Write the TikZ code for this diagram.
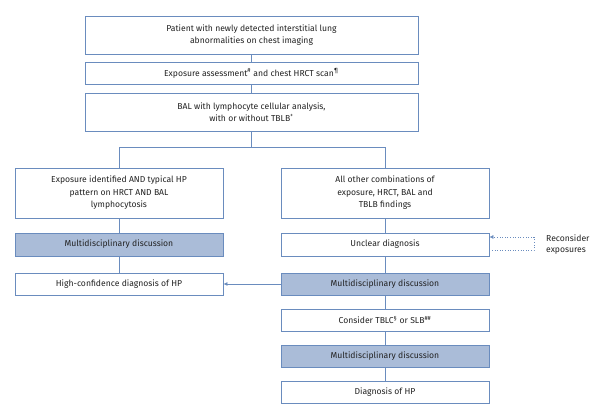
\documentclass[tikz,border=0pt]{standalone}
\usepackage{fontspec}
\setmainfont{Fira Sans}
\usetikzlibrary{arrows.meta}
\definecolor{boxline}{HTML}{6A8CBE}
\definecolor{mdfill}{HTML}{AABCD8}
\definecolor{txt}{HTML}{222222}
\tikzset{
  box/.style={draw=boxline, line width=0.8pt, fill=white, minimum width=#1, inner sep=0pt, align=center, text=txt, font=\fontsize{8.6}{12.5}\selectfont},
  box/.default=208pt,
  mdbox/.style={box, fill=mdfill},
  conn/.style={draw=boxline, line width=0.8pt},
  arr/.style={conn, -{Latex[length=4pt,width=4pt]}},
  dotarr/.style={draw=boxline, line width=0.6pt, dotted}
}
\begin{document}
\begin{tikzpicture}[x=1pt,y=-1pt]
\useasboundingbox (0,0) rectangle (598,411);
\node[box=333pt, minimum height=38pt] (top) at (251.5,35) {Patient with newly detected interstitial lung\\abnormalities on chest imaging};
\node[box=333pt, minimum height=22pt] (expo) at (251.5,73) {Exposure assessment\textsuperscript{\#} and chest HRCT scan\textsuperscript{¶}};
\node[box=333pt, minimum height=38pt] (bal) at (251.5,112) {BAL with lymphocyte cellular analysis,\\with or without TBLB\textsuperscript{+}};
\node[box, minimum height=50pt] (left) at (119,193) {Exposure identified AND typical HP\\pattern on HRCT AND BAL\\lymphocytosis};
\node[box, minimum height=50pt] (right) at (385,193) {All other combinations of\\exposure, HRCT, BAL and\\TBLB findings};
\node[mdbox, minimum height=23pt] (mdl) at (119,244.5) {Multidisciplinary discussion};
\node[box, minimum height=23pt] (unclear) at (385,244.5) {Unclear diagnosis};
\node[box, minimum height=22pt] (hc) at (119,284) {High-confidence diagnosis of HP};
\node[mdbox, minimum height=22pt] (mdr) at (385,284) {Multidisciplinary discussion};
\node[box, minimum height=22pt] (cons) at (385,320) {Consider TBLC\textsuperscript{§} or SLB\textsuperscript{\#\#}};
\node[mdbox, minimum height=22pt] (md3) at (385,356) {Multidisciplinary discussion};
\node[box, minimum height=22pt] (diag) at (385,392) {Diagnosis of HP};
\node[align=left, anchor=west, inner sep=0pt, text=txt, font=\fontsize{8.6}{11}\selectfont] (recon) at (546,245) {Reconsider\\exposures};
\coordinate (br) at (251.5,147);
\coordinate (d1) at (534,237);
\coordinate (d2) at (534,250);
\draw[conn] (top) -- (expo);
\draw[conn] (expo) -- (bal);
\draw[conn] (bal.south) -- (br);
\draw[conn] (br) -| (left.north);
\draw[conn] (br) -| (right.north);
\draw[conn] (left) -- (mdl);
\draw[conn] (mdl) -- (hc);
\draw[conn] (right) -- (unclear);
\draw[conn] (unclear) -- (mdr);
\draw[conn] (mdr) -- (cons);
\draw[conn] (cons) -- (md3);
\draw[conn] (md3) -- (diag);
\draw[arr] (mdr.west) -- (hc.east);
\draw[dotarr] (unclear.east |- d2) -- (d2) -- (d1);
\draw[dotarr, -{Latex[length=4pt,width=4pt]}] (d1) -- (unclear.east |- d1);
\end{tikzpicture}
\end{document}
